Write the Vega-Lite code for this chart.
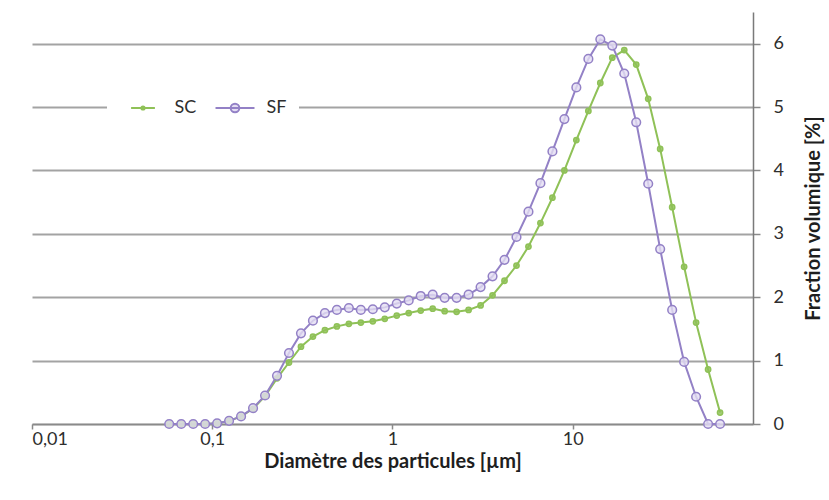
{
  "$schema": "https://vega.github.io/schema/vega-lite/v6.json",
  "width": 721,
  "height": 412,
  "autosize": "none",
  "padding": {"left": 32, "top": 12, "right": 76, "bottom": 76},
  "background": "white",
  "config": {
    "font": "Lato",
    "view": {"stroke": null},
    "axis": {"labelFontSize": 18, "labelColor": "#2e2e2e", "titleFontSize": 20, "titleFontWeight": "bold", "titleColor": "#1e1e1e"}
  },
  "datasets": {
    "psd": [
      {"d": 0.0577, "serie": "SC", "v": 0}, {"d": 0.0673, "serie": "SC", "v": 0}, {"d": 0.0784, "serie": "SC", "v": 0}, {"d": 0.0913, "serie": "SC", "v": 0},
      {"d": 0.1064, "serie": "SC", "v": 0.01}, {"d": 0.124, "serie": "SC", "v": 0.05}, {"d": 0.1445, "serie": "SC", "v": 0.12}, {"d": 0.1684, "serie": "SC", "v": 0.24},
      {"d": 0.1963, "serie": "SC", "v": 0.44}, {"d": 0.2287, "serie": "SC", "v": 0.72}, {"d": 0.2665, "serie": "SC", "v": 0.97}, {"d": 0.3106, "serie": "SC", "v": 1.22},
      {"d": 0.3619, "serie": "SC", "v": 1.38}, {"d": 0.4217, "serie": "SC", "v": 1.48}, {"d": 0.4914, "serie": "SC", "v": 1.54}, {"d": 0.5727, "serie": "SC", "v": 1.58},
      {"d": 0.6673, "serie": "SC", "v": 1.6}, {"d": 0.7776, "serie": "SC", "v": 1.62}, {"d": 0.9061, "serie": "SC", "v": 1.66}, {"d": 1.056, "serie": "SC", "v": 1.71},
      {"d": 1.23, "serie": "SC", "v": 1.75}, {"d": 1.434, "serie": "SC", "v": 1.79}, {"d": 1.671, "serie": "SC", "v": 1.82}, {"d": 1.947, "serie": "SC", "v": 1.78},
      {"d": 2.268, "serie": "SC", "v": 1.77}, {"d": 2.643, "serie": "SC", "v": 1.8}, {"d": 3.081, "serie": "SC", "v": 1.87}, {"d": 3.589, "serie": "SC", "v": 2.03},
      {"d": 4.182, "serie": "SC", "v": 2.26}, {"d": 4.874, "serie": "SC", "v": 2.5}, {"d": 5.679, "serie": "SC", "v": 2.8}, {"d": 6.617, "serie": "SC", "v": 3.17},
      {"d": 7.713, "serie": "SC", "v": 3.57}, {"d": 8.987, "serie": "SC", "v": 4.0}, {"d": 10.47, "serie": "SC", "v": 4.48}, {"d": 12.21, "serie": "SC", "v": 4.94},
      {"d": 14.22, "serie": "SC", "v": 5.38}, {"d": 16.57, "serie": "SC", "v": 5.78}, {"d": 19.31, "serie": "SC", "v": 5.9}, {"d": 22.5, "serie": "SC", "v": 5.67},
      {"d": 26.22, "serie": "SC", "v": 5.13}, {"d": 30.55, "serie": "SC", "v": 4.34}, {"d": 35.61, "serie": "SC", "v": 3.42}, {"d": 41.49, "serie": "SC", "v": 2.48},
      {"d": 48.34, "serie": "SC", "v": 1.6}, {"d": 56.35, "serie": "SC", "v": 0.86}, {"d": 65.66, "serie": "SC", "v": 0.18},
      {"d": 0.0577, "serie": "SF", "v": 0}, {"d": 0.0673, "serie": "SF", "v": 0}, {"d": 0.0784, "serie": "SF", "v": 0}, {"d": 0.0913, "serie": "SF", "v": 0},
      {"d": 0.1064, "serie": "SF", "v": 0.01}, {"d": 0.124, "serie": "SF", "v": 0.05}, {"d": 0.1445, "serie": "SF", "v": 0.12}, {"d": 0.1684, "serie": "SF", "v": 0.25},
      {"d": 0.1963, "serie": "SF", "v": 0.45}, {"d": 0.2287, "serie": "SF", "v": 0.76}, {"d": 0.2665, "serie": "SF", "v": 1.12}, {"d": 0.3106, "serie": "SF", "v": 1.43},
      {"d": 0.3619, "serie": "SF", "v": 1.63}, {"d": 0.4217, "serie": "SF", "v": 1.75}, {"d": 0.4914, "serie": "SF", "v": 1.8}, {"d": 0.5727, "serie": "SF", "v": 1.83},
      {"d": 0.6673, "serie": "SF", "v": 1.8}, {"d": 0.7776, "serie": "SF", "v": 1.81}, {"d": 0.9061, "serie": "SF", "v": 1.84}, {"d": 1.056, "serie": "SF", "v": 1.9},
      {"d": 1.23, "serie": "SF", "v": 1.95}, {"d": 1.434, "serie": "SF", "v": 2.02}, {"d": 1.671, "serie": "SF", "v": 2.04}, {"d": 1.947, "serie": "SF", "v": 1.99},
      {"d": 2.268, "serie": "SF", "v": 1.99}, {"d": 2.643, "serie": "SF", "v": 2.04}, {"d": 3.081, "serie": "SF", "v": 2.16}, {"d": 3.589, "serie": "SF", "v": 2.33},
      {"d": 4.182, "serie": "SF", "v": 2.59}, {"d": 4.874, "serie": "SF", "v": 2.95}, {"d": 5.679, "serie": "SF", "v": 3.35}, {"d": 6.617, "serie": "SF", "v": 3.8},
      {"d": 7.713, "serie": "SF", "v": 4.3}, {"d": 8.987, "serie": "SF", "v": 4.81}, {"d": 10.47, "serie": "SF", "v": 5.31}, {"d": 12.21, "serie": "SF", "v": 5.76},
      {"d": 14.22, "serie": "SF", "v": 6.07}, {"d": 16.57, "serie": "SF", "v": 5.97}, {"d": 19.31, "serie": "SF", "v": 5.53}, {"d": 22.5, "serie": "SF", "v": 4.76},
      {"d": 26.22, "serie": "SF", "v": 3.79}, {"d": 30.55, "serie": "SF", "v": 2.76}, {"d": 35.61, "serie": "SF", "v": 1.8}, {"d": 41.49, "serie": "SF", "v": 0.98},
      {"d": 48.34, "serie": "SF", "v": 0.43}, {"d": 56.35, "serie": "SF", "v": 0}, {"d": 65.66, "serie": "SF", "v": 0}
    ]
  },
  "data": {"name": "psd"},
  "encoding": {
    "x": {
      "field": "d", "type": "quantitative",
      "scale": {"type": "log", "domain": [0.01, 100], "nice": false},
      "axis": {
        "title": "Diamètre des particules [µm]",
        "values": [0.01, 0.1, 1, 10],
        "labelExpr": "replace(format(datum.value, '~g'), '.', ',')",
        "grid": false,
        "domainColor": "#8a8a8a", "domainWidth": 1.5,
        "tickColor": "#8a8a8a", "tickSize": 5, "tickWidth": 1.5,
        "labelPadding": 1, "titlePadding": 3
      }
    },
    "y": {
      "field": "v", "type": "quantitative",
      "scale": {"domain": [0, 6.5], "nice": false},
      "axis": {
        "orient": "right",
        "title": "Fraction volumique [%]",
        "titleAngle": 270,
        "values": [0, 1, 2, 3, 4, 5, 6],
        "grid": true, "gridColor": "#a3a3a3", "gridWidth": 2.2,
        "domainColor": "#7a7a7a", "domainWidth": 1.5,
        "tickColor": "#8a8a8a", "tickSize": 7, "tickWidth": 1.5,
        "labelPadding": 13, "titlePadding": 40
      }
    }
  },
  "layer": [
    {
      "mark": {"type": "line", "strokeWidth": 2},
      "encoding": {
        "color": {
          "field": "serie", "type": "nominal",
          "scale": {"domain": ["SC", "SF"], "range": ["#8fc157", "#9381c6"]},
          "legend": {
            "title": " ",
            "titleOrient": "left",
            "titlePadding": 15,
            "orient": "none",
            "legendX": 75,
            "legendY": 75,
            "direction": "horizontal",
            "fillColor": "white",
            "padding": 12,
            "symbolSize": 100,
            "symbolStrokeWidth": 2,
            "labelFontSize": 18,
            "labelColor": "#2e2e2e",
            "labelOffset": 22.5,
            "columnPadding": 14,
            "encode": {
              "symbols": {
                "update": {
                  "strokeWidth": {"value": 2},
                  "shape": {"signal": "datum.value === 'SC' ? 'M-4.5,0L4.5,0M0.6,0A0.6,0.6,0,1,1,-0.6,0A0.6,0.6,0,1,1,0.6,0' : 'M-4.5,0L4.5,0M1,0A1,1,0,1,1,-1,0A1,1,0,1,1,1,0'"},
                  "fill": {"signal": "datum.value === 'SC' ? '#8fc157' : '#e4ddf3'"}
                }
              }
            }
          }
        }
      }
    },
    {
      "mark": {"type": "point", "filled": false, "strokeWidth": 1.5, "opacity": 1},
      "encoding": {
        "stroke": {"field": "serie", "type": "nominal", "scale": {"domain": ["SC", "SF"], "range": ["#8fc157", "#9381c6"]}, "legend": null},
        "fill": {"field": "serie", "type": "nominal", "scale": {"domain": ["SC", "SF"], "range": ["#8fc157", "#e4ddf3"]}, "legend": null},
        "fillOpacity": {"value": 0.8},
        "size": {"field": "serie", "type": "nominal", "scale": {"domain": ["SC", "SF"], "range": [28, 75]}, "legend": null}
      }
    }
  ]
}
